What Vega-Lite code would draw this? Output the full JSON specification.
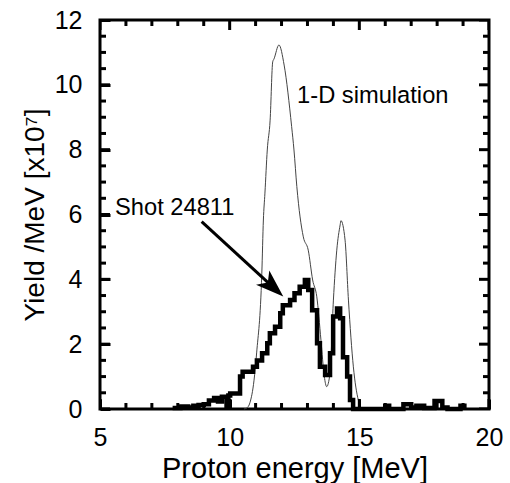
{
  "$schema": "https://vega.github.io/schema/vega-lite/v6.json",
  "width": 389,
  "height": 389,
  "autosize": {"type": "none"},
  "padding": {"left": 100, "top": 20, "right": 21, "bottom": 74},
  "background": "white",
  "config": {
    "view": {"stroke": "black", "strokeWidth": 3},
    "font": "Liberation Sans"
  },
  "datasets": {
    "sim": [
      {"E": 10.55, "Y": 0.0}, {"E": 10.66, "Y": 0.03}, {"E": 10.78, "Y": 0.19}, {"E": 10.94, "Y": 0.89},
      {"E": 11.04, "Y": 1.73}, {"E": 11.24, "Y": 4.19}, {"E": 11.30, "Y": 5.83}, {"E": 11.36, "Y": 6.66},
      {"E": 11.45, "Y": 7.99}, {"E": 11.56, "Y": 8.91}, {"E": 11.66, "Y": 10.71}, {"E": 11.71, "Y": 10.80},
      {"E": 11.90, "Y": 11.23}, {"E": 12.10, "Y": 10.61}, {"E": 12.39, "Y": 8.71}, {"E": 12.48, "Y": 7.99},
      {"E": 12.59, "Y": 6.86}, {"E": 12.84, "Y": 5.31}, {"E": 13.03, "Y": 4.90}, {"E": 13.20, "Y": 3.98},
      {"E": 13.36, "Y": 3.46}, {"E": 13.52, "Y": 2.13}, {"E": 13.65, "Y": 1.0}, {"E": 13.74, "Y": 0.69},
      {"E": 13.87, "Y": 1.11}, {"E": 14.00, "Y": 3.36}, {"E": 14.13, "Y": 4.90}, {"E": 14.26, "Y": 5.68},
      {"E": 14.29, "Y": 5.81}, {"E": 14.45, "Y": 5.21}, {"E": 14.58, "Y": 3.36}, {"E": 14.77, "Y": 1.30},
      {"E": 14.96, "Y": 0.28}, {"E": 15.09, "Y": 0.03}, {"E": 15.2, "Y": 0.0}
    ],
    "shot": [
      {"E": 7.8, "Y": 0.03}, {"E": 8.1, "Y": 0.08}, {"E": 8.4, "Y": 0.05}, {"E": 8.6, "Y": 0.1},
      {"E": 8.8, "Y": 0.12}, {"E": 9.0, "Y": 0.15}, {"E": 9.2, "Y": 0.26}, {"E": 9.4, "Y": 0.34},
      {"E": 9.55, "Y": 0.23}, {"E": 9.7, "Y": 0.38}, {"E": 9.88, "Y": 0.05}, {"E": 9.95, "Y": 0.42},
      {"E": 10.02, "Y": 0.48}, {"E": 10.4, "Y": 1.0}, {"E": 10.5, "Y": 1.15}, {"E": 10.9, "Y": 1.3},
      {"E": 11.05, "Y": 1.5}, {"E": 11.25, "Y": 1.72}, {"E": 11.45, "Y": 2.03}, {"E": 11.55, "Y": 2.34},
      {"E": 11.75, "Y": 2.54}, {"E": 11.95, "Y": 2.95}, {"E": 12.05, "Y": 3.2}, {"E": 12.33, "Y": 3.36},
      {"E": 12.5, "Y": 3.57}, {"E": 12.7, "Y": 3.77}, {"E": 12.9, "Y": 3.98}, {"E": 13.03, "Y": 3.67},
      {"E": 13.18, "Y": 3.05}, {"E": 13.37, "Y": 2.03}, {"E": 13.48, "Y": 1.3}, {"E": 13.68, "Y": 1.05},
      {"E": 13.87, "Y": 1.72}, {"E": 13.99, "Y": 2.85}, {"E": 14.14, "Y": 3.1}, {"E": 14.26, "Y": 2.8},
      {"E": 14.37, "Y": 1.6}, {"E": 14.53, "Y": 1.0}, {"E": 14.64, "Y": 0.28}, {"E": 14.76, "Y": 0.0},
      {"E": 16.0, "Y": 0.1}, {"E": 16.15, "Y": 0.0}, {"E": 16.7, "Y": 0.15}, {"E": 17.0, "Y": 0.05},
      {"E": 17.2, "Y": 0.1}, {"E": 17.5, "Y": 0.03}, {"E": 17.9, "Y": 0.25}, {"E": 18.2, "Y": 0.05},
      {"E": 18.4, "Y": 0.0}, {"E": 18.9, "Y": 0.1}, {"E": 19.05, "Y": 0.0}
    ],
    "notes": [
      {"E": 5.58, "Y": 5.98, "t": "Shot 24811"},
      {"E": 12.6, "Y": 9.44, "t": "1-D simulation"}
    ],
    "arrow": [
      {"E": 8.92, "Y": 5.78, "E2": 11.67, "Y2": 3.76}
    ],
    "xticks": [
      {"E": 5, "kind": "major"}, {"E": 6, "kind": "minor"}, {"E": 7, "kind": "minor"}, {"E": 8, "kind": "minor"},
      {"E": 9, "kind": "minor"}, {"E": 10, "kind": "major"}, {"E": 11, "kind": "minor"}, {"E": 12, "kind": "minor"},
      {"E": 13, "kind": "minor"}, {"E": 14, "kind": "minor"}, {"E": 15, "kind": "major"}, {"E": 16, "kind": "minor"},
      {"E": 17, "kind": "minor"}, {"E": 18, "kind": "minor"}, {"E": 19, "kind": "minor"}, {"E": 20, "kind": "major"}
    ],
    "yticks": [
      {"Y": 0, "kind": "major"}, {"Y": 0.5, "kind": "minor"}, {"Y": 1, "kind": "minor"}, {"Y": 1.5, "kind": "minor"},
      {"Y": 2, "kind": "major"}, {"Y": 2.5, "kind": "minor"}, {"Y": 3, "kind": "minor"}, {"Y": 3.5, "kind": "minor"},
      {"Y": 4, "kind": "major"}, {"Y": 4.5, "kind": "minor"}, {"Y": 5, "kind": "minor"}, {"Y": 5.5, "kind": "minor"},
      {"Y": 6, "kind": "major"}, {"Y": 6.5, "kind": "minor"}, {"Y": 7, "kind": "minor"}, {"Y": 7.5, "kind": "minor"},
      {"Y": 8, "kind": "major"}, {"Y": 8.5, "kind": "minor"}, {"Y": 9, "kind": "minor"}, {"Y": 9.5, "kind": "minor"},
      {"Y": 10, "kind": "major"}, {"Y": 10.5, "kind": "minor"}, {"Y": 11, "kind": "minor"}, {"Y": 11.5, "kind": "minor"},
      {"Y": 12, "kind": "major"}
    ]
  },
  "layer": [
    {
      "data": {"name": "sim"},
      "mark": {"type": "line", "color": "#444444", "strokeWidth": 1, "interpolate": "monotone"},
      "encoding": {
        "x": {
          "field": "E", "type": "quantitative",
          "scale": {"domain": [5, 20], "nice": false, "zero": false},
          "axis": {
            "orient": "bottom",
            "values": [5, 10, 15, 20],
            "domain": false, "grid": false, "ticks": true,
            "tickSize": -10, "tickColor": "black", "tickWidth": 3, "zindex": 2,
            "format": "d",
            "labelFont": "Liberation Sans", "labelFontSize": 25, "labelColor": "black",
            "labelPadding": 26, "labelFlush": false, "labelOverlap": false,
            "title": "Proton energy [MeV]",
            "titleFont": "Liberation Sans", "titleFontSize": 29, "titleFontWeight": "normal", "titleColor": "black",
            "titleBaseline": "alphabetic",
            "titleY": 68
          }
        },
        "y": {
          "field": "Y", "type": "quantitative",
          "scale": {"domain": [0, 12], "nice": false, "zero": false},
          "axis": {
            "orient": "left",
            "values": [0, 2, 4, 6, 8, 10, 12],
            "domain": false, "grid": false, "ticks": true,
            "tickSize": -10, "tickColor": "black", "tickWidth": 3, "zindex": 2,
            "format": "d",
            "labelFont": "Liberation Sans", "labelFontSize": 25, "labelColor": "black",
            "labelPadding": 28, "labelFlush": false, "labelOverlap": false,
            "title": "Yield /MeV [x10⁷]",
            "titleFont": "Liberation Sans", "titleFontSize": 28, "titleFontWeight": "normal", "titleColor": "black",
            "titleBaseline": "alphabetic",
            "titleAngle": 270,
            "titleX": -57,
            "titleY": 194.5
          }
        }
      }
    },
    {
      "data": {"name": "shot"},
      "mark": {"type": "line", "color": "black", "strokeWidth": 4.5, "interpolate": "step-after", "strokeJoin": "miter"},
      "encoding": {
        "x": {"field": "E", "type": "quantitative"},
        "y": {"field": "Y", "type": "quantitative"}
      }
    },
    {
      "data": {"name": "xticks"},
      "mark": {"type": "tick", "orient": "vertical", "color": "black", "thickness": 3, "opacity": 1, "clip": true},
      "encoding": {
        "x": {"field": "E", "type": "quantitative"},
        "y": {"datum": 0, "type": "quantitative"},
        "size": {"field": "kind", "type": "nominal", "scale": {"domain": ["major", "minor"], "range": [20, 12]}, "legend": null}
      }
    },
    {
      "data": {"name": "xticks"},
      "mark": {"type": "tick", "orient": "vertical", "color": "black", "thickness": 3, "opacity": 1, "clip": true},
      "encoding": {
        "x": {"field": "E", "type": "quantitative"},
        "y": {"datum": 12, "type": "quantitative"},
        "size": {"field": "kind", "type": "nominal", "scale": {"domain": ["major", "minor"], "range": [20, 12]}, "legend": null}
      }
    },
    {
      "data": {"name": "yticks"},
      "mark": {"type": "tick", "orient": "horizontal", "color": "black", "thickness": 3, "opacity": 1, "clip": true},
      "encoding": {
        "y": {"field": "Y", "type": "quantitative"},
        "x": {"datum": 5, "type": "quantitative"},
        "size": {"field": "kind", "type": "nominal", "scale": {"domain": ["major", "minor"], "range": [20, 12]}, "legend": null}
      }
    },
    {
      "data": {"name": "yticks"},
      "mark": {"type": "tick", "orient": "horizontal", "color": "black", "thickness": 3, "opacity": 1, "clip": true},
      "encoding": {
        "y": {"field": "Y", "type": "quantitative"},
        "x": {"datum": 20, "type": "quantitative"},
        "size": {"field": "kind", "type": "nominal", "scale": {"domain": ["major", "minor"], "range": [20, 12]}, "legend": null}
      }
    },
    {
      "data": {"name": "arrow"},
      "mark": {"type": "rule", "color": "black", "strokeWidth": 3},
      "encoding": {
        "x": {"field": "E", "type": "quantitative"},
        "y": {"field": "Y", "type": "quantitative"},
        "x2": {"field": "E2"},
        "y2": {"field": "Y2"}
      }
    },
    {
      "data": {"name": "arrow"},
      "mark": {"type": "point", "shape": "M1,0L-1,-0.7L-0.5,0L-1,0.7Z", "filled": true, "color": "black", "opacity": 1, "size": 784, "angle": 42.6},
      "encoding": {
        "x": {"field": "E2", "type": "quantitative"},
        "y": {"field": "Y2", "type": "quantitative"}
      }
    },
    {
      "data": {"name": "notes"},
      "mark": {"type": "text", "align": "left", "baseline": "alphabetic", "font": "Liberation Sans", "fontSize": 23.7, "color": "black"},
      "encoding": {
        "x": {"field": "E", "type": "quantitative"},
        "y": {"field": "Y", "type": "quantitative"},
        "text": {"field": "t"}
      }
    }
  ]
}
